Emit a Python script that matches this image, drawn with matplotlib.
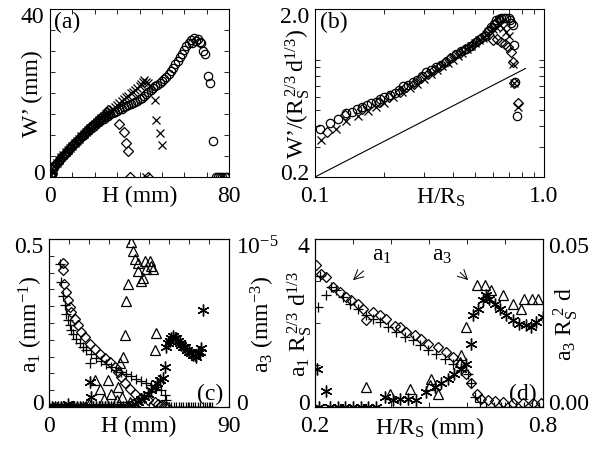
import numpy as np
import matplotlib
matplotlib.use("Agg")
import matplotlib.pyplot as plt
from matplotlib.transforms import ScaledTranslation

plt.rcParams['font.family'] = ['Liberation Serif', 'DejaVu Serif']
plt.rcParams['mathtext.fontset'] = 'custom'
plt.rcParams['mathtext.rm'] = 'Liberation Serif'
plt.rcParams['mathtext.it'] = 'Liberation Serif'
plt.rcParams['font.size'] = 17
plt.rcParams['axes.linewidth'] = 0.8

# ---------------- (a) W' vs H ----------------
a_circ_H = [0.3, 0.8, 1.5, 2.2, 3, 3.8, 4.6, 5.5, 6.3, 7.2, 8, 8.9, 9.8, 10.6, 11.5, 12.4, 13.3, 14.2,
            15.1, 16, 17, 18, 19, 20, 21, 22, 23, 24, 25, 26, 27, 28, 29, 30, 31, 32, 33, 34, 35, 36,
            37, 38, 39, 40, 41, 42, 43, 44, 45, 46, 47, 48, 49, 50, 51, 52, 53, 54, 55, 56, 57, 58,
            59, 60, 61, 62, 62.8, 63.6, 64.4, 65.2, 66, 67, 67.6, 68.6, 69.2, 70.8, 71.5, 72.8,
            74, 75, 76, 77, 78, 79]
a_circ_W = [0.2, 0.8, 2.0, 2.8, 3.3, 3.8, 4.3, 4.8, 5.3, 5.8, 6.3, 6.8, 7.3, 7.8, 8.3, 8.7, 9.2, 9.7,
            10.1, 10.6, 11.0, 11.5, 11.9, 12.4, 12.8, 13.2, 13.6, 13.9, 14.3, 14.6, 14.9, 15.2, 15.5,
            15.8, 16.1, 16.3, 16.6, 16.8, 17.1, 17.3, 17.6, 17.9, 18.2, 18.5, 18.9, 19.3, 19.8, 20.3,
            20.8, 21.2, 21.6, 22.0, 22.4, 22.8, 23.3, 23.8, 24.5, 25.2, 26.0, 26.8, 27.6, 28.5, 29.4,
            30.3, 31.2, 32.0, 32.6, 31.9, 33.0, 32.5, 32.8, 32.2, 32.0, 29.9, 29.2, 24.0, 22.5, 8.5,
            0, 0, 0, 0, 0, 0]
a_cross_H = [0.5, 1.2, 2, 3, 4, 5, 6, 7, 8, 9, 10, 11, 12, 13, 14, 15, 16, 17, 18, 19, 20, 21, 22,
             23, 24, 25, 26, 27, 28, 29, 30, 31, 32, 33, 34, 35, 36, 37, 38, 39, 40, 40.8, 41.5,
             42.2, 43, 43.8, 44.5, 46.8, 47.5, 49, 50.2, 43]
a_cross_W = [0.5, 1.5, 2.6, 3.4, 4.0, 4.7, 5.3, 5.9, 6.5, 7.0, 7.5, 8.1, 8.6, 9.1, 9.7, 10.2, 10.7,
             11.2, 11.7, 12.2, 12.7, 13.1, 13.6, 14.0, 14.5, 14.9, 15.3, 15.8, 16.2, 16.7, 17.1,
             17.6, 18.0, 18.5, 19.0, 19.4, 19.9, 20.3, 20.8, 21.2, 21.7, 22.2, 22.6, 23.0, 22.6,
             22.3, 21.6, 18.3, 13.5, 10.5, 7.7, 0]
a_diam_H = [0.4, 1.0, 1.8, 2.6, 3.5, 4.5, 5.5, 6.5, 7.5, 8.5, 9.5, 10.5, 11.5, 12.5, 13.5, 14.5,
            15.5, 16.5, 17.5, 18.5, 19.5, 20.5, 21.5, 22.5, 23.5, 24.5, 25.3, 26, 31, 33, 34, 35,
            35.6, 43.8]
a_diam_W = [0.3, 1.0, 2.3, 3.0, 3.6, 4.3, 4.9, 5.5, 6.1, 6.6, 7.2, 7.8, 8.3, 8.9, 9.4, 10.0, 10.5,
            11.1, 11.6, 12.2, 12.6, 13.1, 13.6, 14.1, 14.6, 15.0, 15.5, 15.9, 12.7, 10.7, 8.1, 6.1,
            0, 0]

# ---------------- (b) scaled, log-log ----------------
b_circ_x = [0.105, 0.116, 0.126, 0.137, 0.145, 0.152, 0.16, 0.168, 0.176, 0.185, 0.193, 0.201,
            0.212, 0.223, 0.232, 0.242, 0.255, 0.268, 0.28, 0.293, 0.306, 0.322, 0.338, 0.355,
            0.374, 0.393, 0.414, 0.435, 0.458, 0.48, 0.506, 0.528, 0.551, 0.57, 0.588, 0.605,
            0.62, 0.636, 0.652, 0.668, 0.685, 0.70, 0.712, 0.72, 0.73, 0.74, 0.75, 0.76]
b_circ_y = [0.388, 0.419, 0.445, 0.481, 0.49, 0.51, 0.525, 0.54, 0.55, 0.559, 0.58, 0.599, 0.615,
            0.632, 0.66, 0.693, 0.71, 0.735, 0.76, 0.80, 0.843, 0.87, 0.903, 0.93, 0.967, 1.02,
            1.08, 1.12, 1.16, 1.21, 1.27, 1.33, 1.39, 1.47, 1.56, 1.63, 1.71, 1.74, 1.76, 1.78,
            1.77, 1.76, 1.71, 1.65, 1.60, 1.22, 0.735, 0.459]
b_cross_x = [0.106, 0.123, 0.137, 0.154, 0.17, 0.185, 0.20, 0.22, 0.24, 0.26, 0.28, 0.30, 0.32,
             0.34, 0.36, 0.38, 0.40, 0.42, 0.44, 0.46, 0.48, 0.50, 0.52, 0.54, 0.56, 0.58, 0.60,
             0.62, 0.64, 0.66, 0.68, 0.70, 0.73, 0.74, 0.77]
b_cross_y = [0.33, 0.388, 0.43, 0.46, 0.497, 0.52, 0.555, 0.60, 0.64, 0.68, 0.72, 0.77, 0.82, 0.87,
             0.91, 0.95, 1.0, 1.05, 1.10, 1.15, 1.20, 1.25, 1.30, 1.35, 1.41, 1.47, 1.52, 1.57,
             1.60, 1.55, 1.45, 1.38, 0.946, 0.73, 0.52]
b_diam_x = [0.113, 0.135, 0.16, 0.19, 0.21, 0.235, 0.25, 0.27, 0.29, 0.31, 0.33, 0.35, 0.37, 0.39,
            0.41, 0.43, 0.45, 0.47, 0.49, 0.51, 0.53, 0.55, 0.57, 0.59, 0.61, 0.625, 0.64, 0.598,
            0.625, 0.652, 0.675, 0.697, 0.72, 0.73, 0.74, 0.77]
b_diam_y = [0.371, 0.47, 0.51, 0.56, 0.60, 0.64, 0.69, 0.72, 0.78, 0.82, 0.87, 0.91, 0.97, 1.02,
            1.06, 1.10, 1.15, 1.19, 1.24, 1.29, 1.34, 1.40, 1.48, 1.55, 1.62, 1.68, 1.72, 1.30,
            1.33, 1.27, 1.24, 1.19, 1.11, 0.97, 0.73, 0.55]
b_line_x = [0.1, 0.83]
b_line_y = [0.2, 0.885]

# ---------------- (c) a1 and a3 vs H ----------------
c_plus_H = [5.3, 6.2, 7.0, 7.8, 8.7, 9.5, 10.3, 11.2, 12.0, 13.7, 15.3, 17.0, 18.7, 21.2, 23.7,
            26.2, 28.7, 31.2, 33.7, 36.2, 38.7, 41.2, 43.7, 46.2, 48.7, 51.2, 53.7, 56.2, 57.8,
            58.7, 20.3, 60, 61.2, 62.4, 63.6, 64.8, 66, 67.2, 68.4, 69.6, 70.8, 72, 73.2, 74.4,
            75.6, 76.8, 78, 79.2, 80.4, 81.5]
c_plus_a1 = [0.427, 0.372, 0.329, 0.303, 0.278, 0.258, 0.243, 0.228, 0.218, 0.203, 0.19, 0.179,
             0.169, 0.159, 0.147, 0.137, 0.127, 0.119, 0.111, 0.104, 0.097, 0.091, 0.084, 0.077,
             0.071, 0.066, 0.060, 0.050, 0.035, 0.020, 0.131, 0, 0, 0, 0, 0, 0, 0, 0, 0, 0, 0, 0,
             0, 0, 0, 0, 0, 0, 0]
c_diam_H = [7.0, 7.0, 7.5, 8.7, 9.5, 10.3, 11.2, 12.8, 14.5, 16.2, 17.8, 20.3, 22.8, 25.3, 27.8,
            30.3, 32.8, 34.5, 36.2, 37.8, 40.3, 42.8, 46.2, 49.5, 52.8, 54.5, 56, 57.5, 59]
c_diam_a1 = [0.429, 0.407, 0.367, 0.342, 0.317, 0.298, 0.283, 0.263, 0.243, 0.223, 0.208, 0.188,
             0.174, 0.159, 0.147, 0.134, 0.119, 0.104, 0.089, 0.071, 0.055, 0.040, 0.028, 0.020,
             0.015, 0.010, 0.005, 0.003, 0]
c_tri_H = [41.2, 42.0, 42.8, 44.5, 44.5, 46.2, 47.0, 48.0, 48.7, 50.3, 51.2, 52.0, 39.5, 38.7,
           37.8, 37.0, 35.3, 53.7, 52.8, 22.8, 29.5, 25.3, 34.5, 31.0, 27.5, 34.0, 36.5, 40.5,
           20.0, 2, 4, 6, 8, 10, 12, 14, 16, 18]
c_tri_a3 = [0.98e-5, 0.93e-5, 0.88e-5, 0.86e-5, 0.81e-5, 0.75e-5, 0.77e-5, 0.87e-5, 0.82e-5,
            0.87e-5, 0.84e-5, 0.82e-5, 0.73e-5, 0.63e-5, 0.43e-5, 0.30e-5, 0.26e-5, 0.44e-5,
            0.34e-5, 0.16e-5, 0.16e-5, 0.11e-5, 0.12e-5, 0.08e-5, 0.05e-5, 0.04e-5, 0.06e-5,
            0.03e-5, 0.02e-5, 0, 0, 0, 0, 0, 0, 0, 0, 0]
c_ast_H = [0, 1.5, 3, 4.5, 6, 7.5, 9.5, 11, 12.5, 14, 15.5, 17, 18.5, 20.3, 21.0, 22, 23.5, 25,
           26.5, 28, 29.5, 31, 32.5, 34, 35.5, 37, 38.5, 40, 41.5, 43, 44.5, 46, 47.5, 49.5, 51,
           52.8, 54, 55.5, 57, 57.8, 58.7, 59.5, 60.3, 61.2, 62, 62.8, 63.7, 64.5, 65.3, 66.2,
           67, 68, 69, 70, 71, 72, 72.8, 73.7, 74.5, 75.3, 76.2, 77]
c_ast_a3 = [0, 0, 0, 0, 0, 0, 0.02e-5, 0, 0, 0, 0, 0, 0, 0.15e-5, 0.06e-5, 0, 0, 0, 0, 0, 0, 0,
            0, 0, 0, 0, 0, 0, 0.01e-5, 0.02e-5, 0.03e-5, 0.05e-5, 0.06e-5, 0.08e-5, 0.10e-5,
            0.12e-5, 0.14e-5, 0.16e-5, 0.17e-5, 0.24e-5, 0.36e-5, 0.38e-5, 0.39e-5, 0.41e-5,
            0.42e-5, 0.41e-5, 0.41e-5, 0.39e-5, 0.38e-5, 0.37e-5, 0.36e-5, 0.36e-5, 0.34e-5,
            0.33e-5, 0.32e-5, 0.31e-5, 0.31e-5, 0.30e-5, 0.32e-5, 0.33e-5, 0.35e-5, 0.575e-5]

# ---------------- (d) scaled a1 and a3 vs H/Rs ----------------
d_diam_x = [0.203, 0.217, 0.23, 0.247, 0.265, 0.282, 0.296, 0.313, 0.326, 0.335, 0.353, 0.37,
            0.388, 0.41, 0.423, 0.44, 0.462, 0.48, 0.497, 0.524, 0.546, 0.563, 0.581, 0.598,
            0.611, 0.625, 0.638, 0.655, 0.673, 0.695, 0.72, 0.747, 0.774, 0.796]
d_diam_y = [3.37, 3.17, 3.10, 2.86, 2.74, 2.62, 2.54, 2.46, 2.34, 2.06, 2.26, 2.18, 2.10, 1.94,
            1.90, 1.79, 1.71, 1.63, 1.51, 1.43, 1.31, 1.19, 1.03, 0.79, 0.56, 0.32, 0.20, 0.16,
            0.14, 0.12, 0.10, 0.095, 0.095, 0.09]
d_plus_x = [0.208, 0.212, 0.23, 0.243, 0.256, 0.274, 0.291, 0.313, 0.335, 0.353, 0.37, 0.392,
            0.414, 0.436, 0.458, 0.475, 0.497, 0.519, 0.541, 0.563, 0.585, 0.602, 0.611, 0.62,
            0.633, 0.65, 0.67, 0.69, 0.71, 0.73, 0.75, 0.77, 0.79]
d_plus_y = [2.38, 3.13, 2.66, 2.86, 2.78, 2.62, 2.46, 2.34, 2.18, 2.10, 2.02, 1.90, 1.79, 1.67,
            1.59, 1.47, 1.35, 1.27, 1.15, 1.03, 0.87, 0.79, 0.56, 0.24, 0.12, 0, 0, 0, 0, 0, 0,
            0, 0]
d_tri_x = [0.335, 0.449, 0.502, 0.397, 0.524, 0.506, 0.581, 0.585, 0.598, 0.625, 0.647, 0.664,
           0.695, 0.72, 0.751, 0.77, 0.787, 0.743]
d_tri_y = [0.0060, 0.0055, 0.0064, 0.0040, 0.0040, 0.0084, 0.0134, 0.0154, 0.0238, 0.0362,
           0.0362, 0.0347, 0.0332, 0.0308, 0.0322, 0.0322, 0.0322, 0.0293]
d_ast_x = [0.205, 0.23, 0.21, 0.24, 0.26, 0.28, 0.30, 0.32, 0.34, 0.36, 0.383, 0.405, 0.423,
           0.445, 0.467, 0.493, 0.515, 0.532, 0.55, 0.567, 0.585, 0.598, 0.611, 0.615, 0.629,
           0.642, 0.651, 0.659, 0.673, 0.686, 0.703, 0.721, 0.738, 0.756, 0.769, 0.782, 0.80]
d_ast_y = [0.0114, 0.0048, 0, 0, 0, 0, 0, 0, 0, 0, 0.0030, 0.0020, 0.0025, 0.0025, 0.0020,
           0.0045, 0.0060, 0.0070, 0.0084, 0.0099, 0.0114, 0.0129, 0.0188, 0.0273, 0.0293,
           0.0317, 0.0332, 0.0322, 0.0308, 0.0293, 0.0273, 0.0258, 0.0248, 0.0243, 0.0238,
           0.0253, 0.0268]

FS = 17
ASTER = (6, 2, 0)
mk = dict(linestyle='none', mfc='none', mec='k', mew=0.9, color='k')


def style(ax, xt, xl, yt, yl):
    ax.set_xticks(xt)
    ax.set_xticklabels(xl)
    ax.set_yticks(yt)
    ax.set_yticklabels(yl)
    ax.minorticks_off()
    ax.tick_params(direction='in', top=True, right=True, length=3.5, width=0.6,
                   labelsize=FS, pad=4)
    ax.tick_params(axis='x', pad=6)


def nudge(ax, side=1):
    # pull the end labels of the y axis a little into the axis box
    ticks = ax.yaxis.get_major_ticks()
    for t, dy in ((ticks[0], 6), (ticks[-1], -5)):
        lab = t.label1 if side == 1 else t.label2
        lab.set_transform(lab.get_transform() + ScaledTranslation(0, dy / 100, fig.dpi_scale_trans))


fig = plt.figure(figsize=(5.92, 4.52), dpi=100)

# (a)
ax = fig.add_axes([50 / 592, 1 - 178 / 452, 179 / 592, 168 / 452])
ax.plot(a_circ_H, a_circ_W, 'o', ms=6, **mk)
ax.plot(a_cross_H, a_cross_W, 'x', ms=5.5, **mk)
ax.plot(a_diam_H, a_diam_W, 'D', ms=5, **mk)
ax.set_xlim(0, 80)
ax.set_ylim(0, 40)
style(ax, list(range(0, 81, 10)), ['0'] + [''] * 7 + ['80'],
      list(range(0, 41, 5)), ['0'] + [''] * 7 + ['40'])
nudge(ax)
ax.set_xlabel('H (mm)', fontsize=FS, va='center')
ax.xaxis.set_label_coords(0.5, -0.11)
ax.set_ylabel('W’ (mm)', fontsize=FS, va='center')
ax.yaxis.set_label_coords(-0.1, 0.5)
ax.text(0.02, 0.99, '(a)', transform=ax.transAxes, ha='left', va='top', fontsize=FS)

# (b)
ax = fig.add_axes([315 / 592, 1 - 178 / 452, 229 / 592, 168 / 452])
ax.set_xscale('log')
ax.set_yscale('log')
ax.plot(b_circ_x, b_circ_y, 'o', ms=6, **mk)
ax.plot(b_cross_x, b_cross_y, 'x', ms=5.5, **mk)
ax.plot(b_diam_x, b_diam_y, 'D', ms=5, **mk)
ax.plot(b_line_x, b_line_y, '-', color='k', lw=0.8)
ax.set_xlim(0.1, 1.0)
ax.set_ylim(0.2, 2.0)
style(ax, [0.1, 0.2, 0.3, 0.4, 0.5, 0.6, 0.7, 0.8, 0.9, 1.0], ['0.1'] + [''] * 8 + ['1.0'],
      [0.2, 0.3, 0.4, 0.5, 0.6, 0.7, 0.8, 0.9, 1.0, 2.0], ['0.2'] + [''] * 8 + ['2.0'])
nudge(ax)
ax.set_xlabel(r'$\mathrm{H/R_S}$', fontsize=FS, va='center')
ax.xaxis.set_label_coords(0.55, -0.12)
ax.set_ylabel(r'$\mathrm{W’/(R_S^{\,2/3}\,d^{1/3})}$', fontsize=FS, va='center')
ax.yaxis.set_label_coords(-0.075, 0.5)
ax.text(0.02, 0.99, '(b)', transform=ax.transAxes, ha='left', va='top', fontsize=FS)

# (c)
ax = fig.add_axes([49 / 592, 1 - 408 / 452, 180 / 592, 168 / 452])
ax.plot(c_plus_H, c_plus_a1, '+', ms=7.5, **mk)
ax.plot(c_diam_H, c_diam_a1, 'D', ms=5, **mk)
ax.set_xlim(0, 90)
ax.set_ylim(0, 0.5)
style(ax, list(range(0, 91, 10)), ['0'] + [''] * 8 + ['90'],
      [0, 0.05, 0.1, 0.15, 0.2, 0.25, 0.3, 0.35, 0.4, 0.45, 0.5], ['0'] + [''] * 9 + ['0.5'])
nudge(ax)
ax.set_xlabel('H (mm)', fontsize=FS, va='center')
ax.xaxis.set_label_coords(0.5, -0.11)
ax.set_ylabel(r'$\mathrm{a_1\ (mm^{-1})}$', fontsize=FS, va='center')
ax.yaxis.set_label_coords(-0.1, 0.5)
ax.text(0.97, 0.02, '(c)', transform=ax.transAxes, ha='right', va='bottom', fontsize=FS)
ax2 = ax.twinx()
ax2.plot(c_tri_H, c_tri_a3, '^', ms=7.5, **mk)
ax2.plot(c_ast_H, c_ast_a3, marker=ASTER, ms=8.5, linestyle='none', color='k', mew=1.0)
ax2.set_ylim(0, 1e-5)
ax2.set_yticks([0, 1e-5])
ax2.set_yticklabels(['0', r'$10^{-5}$'])
ax2.tick_params(axis='y', length=0, labelsize=FS, pad=5)
nudge(ax2, side=2)
ax2.set_ylabel(r'$\mathrm{a_3\ (mm^{-3})}$', fontsize=FS, va='center', rotation=90)
ax2.yaxis.set_label_coords(1.19, 0.5)

# (d)
ax = fig.add_axes([315 / 592, 1 - 408 / 452, 228 / 592, 168 / 452])
ax.plot(d_plus_x, d_plus_y, '+', ms=7.5, **mk)
ax.plot(d_diam_x, d_diam_y, 'D', ms=5, **mk)
ax.set_xlim(0.2, 0.8)
ax.set_ylim(0, 4)
style(ax, [0.2, 0.3, 0.4, 0.5, 0.6, 0.7, 0.8], ['0.2'] + [''] * 5 + ['0.8'],
      [0, 1, 2, 3, 4], ['0'] + [''] * 3 + ['4'])
nudge(ax)
ax.set_xlabel(r'$\mathrm{H/R_S\ (mm)}$', fontsize=FS, va='center')
ax.xaxis.set_label_coords(0.5, -0.12)
ax.set_ylabel(r'$\mathrm{a_1\ R_S^{\,2/3}\ d^{1/3}}$', fontsize=FS, va='center')
ax.yaxis.set_label_coords(-0.07, 0.5)
ax.text(0.97, 0.02, '(d)', transform=ax.transAxes, ha='right', va='bottom', fontsize=FS)
ax.annotate(r'$\mathrm{a_1}$', xy=(0.30, 3.02), xytext=(0.375, 3.62), fontsize=FS,
            ha='center', va='center',
            arrowprops=dict(arrowstyle='->', color='k', lw=0.7, shrinkA=5, shrinkB=0))
ax.annotate(r'$\mathrm{a_3}$', xy=(0.603, 3.02), xytext=(0.535, 3.62), fontsize=FS,
            ha='center', va='center',
            arrowprops=dict(arrowstyle='->', color='k', lw=0.7, shrinkA=5, shrinkB=0))
ax2 = ax.twinx()
ax2.plot(d_tri_x, d_tri_y, '^', ms=7.5, **mk)
ax2.plot(d_ast_x, d_ast_y, marker=ASTER, ms=8.5, linestyle='none', color='k', mew=1.0)
ax2.set_ylim(0, 0.05)
ax2.set_yticks([0, 0.05])
ax2.set_yticklabels(['0.00', '0.05'])
ax2.tick_params(axis='y', length=0, labelsize=FS, pad=4)
nudge(ax2, side=2)
ax2.set_ylabel(r'$\mathrm{a_3\ R_S^{\ 2}\ d}$', fontsize=FS, va='center', rotation=90)
ax2.yaxis.set_label_coords(1.1, 0.5)

fig.savefig('out.png', dpi=100)
